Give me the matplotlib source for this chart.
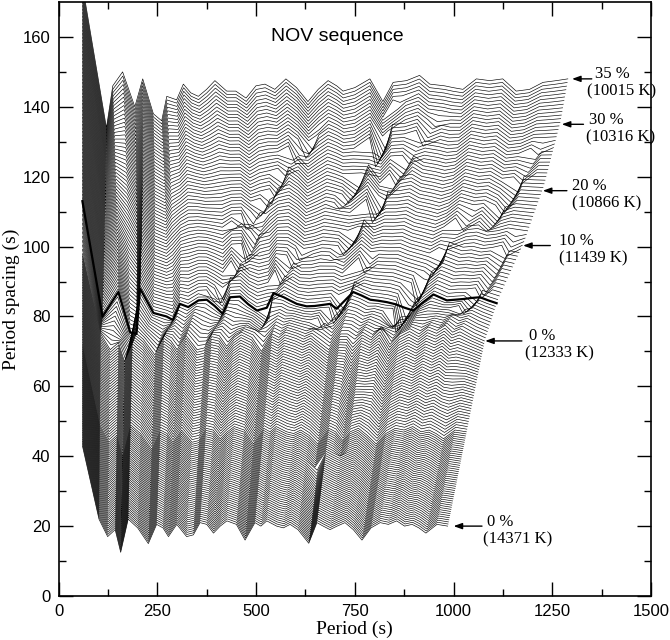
import numpy as np
import matplotlib.pyplot as plt

# traced model curves: mode period (s) and plotted period spacing (s), 46 modes each
# hottest model, 14371 K (lowest curve); the uncrystallized models share its mode grid
bottom_p = [60, 102, 124, 143, 157, 176, 200, 227, 248, 264, 278, 299, 324, 341, 358, 375,
            392, 409, 426, 450, 472, 497, 512, 527, 552, 569, 586, 606, 627, 654, 670, 687,
            705, 725, 746, 768, 791, 814, 835, 856, 876, 895, 912, 930, 958, 985]
bottom_dp = [43, 22, 17, 19, 12.5, 22, 19.5, 15, 20.5, 19.5, 17, 20.5, 17, 17.5, 21, 20.5,
             18, 20, 21.5, 20.5, 16, 21, 20, 21.5, 20, 19.5, 20.5, 19, 16.5, 21, 20, 19,
             20, 21, 19, 16, 19.5, 21, 20.5, 21.5, 20, 20.5, 19.5, 18, 20.5, 20]

# model half way up the uncrystallized part
mid_dp = [72, 49, 44, 46, 40, 49, 46.5, 42, 47.5, 46.5, 44, 47.5, 44, 44.5, 48, 47.5,
          45, 47, 48.5, 47.5, 43.5, 48, 47, 48.5, 47, 46.5, 47.5, 46, 43.5, 48, 47, 46,
          47, 48, 46, 43.5, 46.5, 48, 47.5, 48.5, 47, 47.5, 46.5, 45, 47.5, 47]

# onset of crystallization, 12333 K
cry_dp = [98, 75, 70.5, 72.5, 67, 76, 73.5, 69, 74.5, 73, 70.5, 74.5, 70.5, 71, 75, 74.5,
          71.5, 74, 75.5, 74, 70, 75, 74, 75.5, 74.5, 73.5, 74.5, 72.5, 70.5, 75, 75, 73.5,
          75.5, 74, 76.5, 72, 75, 76.5, 75, 77, 76, 77.5, 75.5, 76.5, 74.5, 73]

# highlighted model (thick line)
thick_p = [60, 111, 151, 181, 197, 206, 240, 273, 289, 307, 328, 354, 375, 395, 415, 434,
           459, 480, 502, 527, 544, 570, 587, 603, 628, 648, 668, 687, 704, 746, 767, 789,
           810, 831, 853, 876, 898, 922, 949, 983, 1004, 1025, 1046, 1067, 1088, 1109]
thick_dp = [113, 80, 87, 75.5, 75, 88, 81, 80, 79, 83.6, 82.7, 84.6, 84.8, 83, 80.8, 85.5,
            85.7, 83.5, 81.7, 82.5, 86.7, 85.5, 84.5, 83.6, 82.9, 83, 83.3, 83.6, 82.2, 87, 86, 84.8,
            84.5, 84.1, 83.5, 82.5, 81.7, 84, 86.3, 84.6, 84.8, 85, 85.3, 85.5, 84.6, 83.8]

# coolest model, 10015 K (top curve)
top_p = [60, 121, 137, 162, 193, 213, 240, 261, 274, 299, 316, 335, 354, 375, 396, 426,
         449, 475, 500, 523, 548, 576, 603, 632, 658, 683, 705, 721, 751, 789, 822, 848,
         882, 915, 941, 979, 1000, 1025, 1059, 1093, 1126, 1160, 1194, 1228, 1262, 1291]
top_dp = [175, 134, 146, 150, 140, 148, 138, 136, 143, 142, 146.5, 144, 143, 145, 147.5, 144.5,
          144.5, 142.5, 146, 146.5, 145, 148, 145.5, 141.5, 145, 147.5, 146, 144.5, 145.5, 148, 141.5, 147,
          147.5, 149, 146.5, 146, 145.5, 145, 148, 147.5, 148, 144.5, 145, 147, 147.5, 148]

anchor_levels = [20, 47, 73, 84, 147]
anchor_counts = [45, 35, 12, 62]   # models drawn between consecutive traced ones

# right hand edge of the family: last period of a model vs its level
edge_levels = [20, 73, 84.6, 101, 117, 135, 148]
edge_ends = [985, 1078, 1110, 1177, 1228, 1270, 1291]

# dark streaks (trapped-mode dips moving to longer periods) and their depth
streaks = [
    [(629, 16), (655, 40)],
    [(713, 41), (746, 73)],
    [(376, 85), (442, 93), (527, 112)],
    [(434, 105), (544, 117), (611, 130), (662, 136)],
    [(688, 97), (772, 108), (882, 125), (966, 139)],
    [(700, 112), (738, 117), (814, 132), (870, 143)],
    [(839, 79), (949, 96), (1059, 111)],
    [(1000, 78), (1076, 88), (1160, 104)],
    [(1080, 105), (1160, 119), (1228, 130)],
    [(500, 76), (561, 91), (620, 101)],
    [(640, 76), (688, 82), (746, 90), (800, 98)],
    [(814, 74), (873, 86), (930, 95)],
]
streak_depth = [2.0, 2.0, 3.5, 3.5, 3.5, 3.5, 3.5, 3.5, 3.5, 3.5, 3.5, 3.5]

labels = [("35 %", "(10015 K)", 1300, 148, 1350, 1359, 1338),
          ("30 %", "(10316 K)", 1274, 135, 1329, 1342, 1336),
          ("20 %", "(10866 K)", 1226, 116, 1287, 1300, 1300),
          ("10 %", "(11439 K)", 1176, 100.3, 1245, 1266, 1266),
          ("0 %", "(12333 K)", 1080, 73, 1173, 1190, 1181),
          ("0 %", "(14371 K)", 1000, 20, 1072, 1084, 1074)]

anchors_p = [bottom_p, bottom_p, bottom_p, thick_p, top_p]
anchors_dp = [bottom_dp, mid_dp, cry_dp, thick_dp, top_dp]

fig = plt.figure(figsize=(6.7, 6.4), dpi=100)
ax = fig.add_axes([58.7 / 670, 1 - 596 / 640, (651 - 58.7) / 670, 594 / 640])

for seg in range(4):
    n = anchor_counts[seg]
    pa, pb = np.array(anchors_p[seg], float), np.array(anchors_p[seg + 1], float)
    ya, yb = np.array(anchors_dp[seg], float), np.array(anchors_dp[seg + 1], float)
    last = seg == 3
    for j in range(n + (1 if last else 0)):
        f = j / n
        level = anchor_levels[seg] + f * (anchor_levels[seg + 1] - anchor_levels[seg])
        x = (1 - f) * pa + f * pb
        y = (1 - f) * ya + f * yb
        end = np.interp(level, edge_levels, edge_ends)
        x = 60 + (x - 60) * (end - 60) / (x[-1] - 60)
        # the trapped mode of this model sits on the streak: move it there
        for s, d in zip(streaks, streak_depth):
            sx = [q[0] for q in s]
            sy = [q[1] for q in s]
            if sy[0] < level < sy[-1]:
                xc = np.interp(level, sy, sx)
                t = (level - sy[0]) / (sy[-1] - sy[0])
                k = np.argmin(np.abs(x - xc))
                if 0 < k < len(x) - 1:
                    x[k] = xc
                    y[k] -= d * np.sin(np.pi * t) ** 0.5
        ax.plot(x, y, color='k', lw=0.45)

ax.plot(thick_p, thick_dp, color='k', lw=1.6)

for top_txt, bot_txt, hx, hy, tx, x1, x2 in labels:
    ax.annotate('', xy=(hx, hy), xytext=(tx, hy),
                arrowprops=dict(arrowstyle='-|>,head_length=0.5,head_width=0.18',
                                color='k', lw=1.0, shrinkA=0, shrinkB=0))
    ax.text(x1, hy + 1.3, top_txt, family='Liberation Serif', fontsize=12,
            va='center', ha='left')
    ax.text(x2, hy - 3.7, bot_txt, family='Liberation Serif', fontsize=12,
            va='center', ha='left')

ax.text(705, 160, 'NOV sequence', family='Liberation Sans', fontsize=14,
        ha='center', va='center')

ax.set_xlim(0, 1500)
ax.set_ylim(0, 170)
ax.set_xticks(np.arange(0, 1501, 250))
ax.set_xticks(np.arange(125, 1500, 250), minor=True)
ax.set_yticks(np.arange(0, 161, 20))
ax.set_yticks(np.arange(10, 170, 20), minor=True)
ax.tick_params(which='both', direction='in', top=True, right=True, width=1.0,
               labelsize=12, pad=6)
ax.tick_params(which='major', length=10)
ax.tick_params(which='minor', length=5)
for lab in ax.get_xticklabels() + ax.get_yticklabels():
    lab.set_family('Liberation Sans')
for sp in ax.spines.values():
    sp.set_linewidth(1.2)
ax.set_xlabel('Period (s)', family='Liberation Serif', fontsize=14, labelpad=1)
ax.set_ylabel('Period spacing (s)', family='Liberation Serif', fontsize=14, labelpad=2)

fig.savefig('out.png', dpi=100)
